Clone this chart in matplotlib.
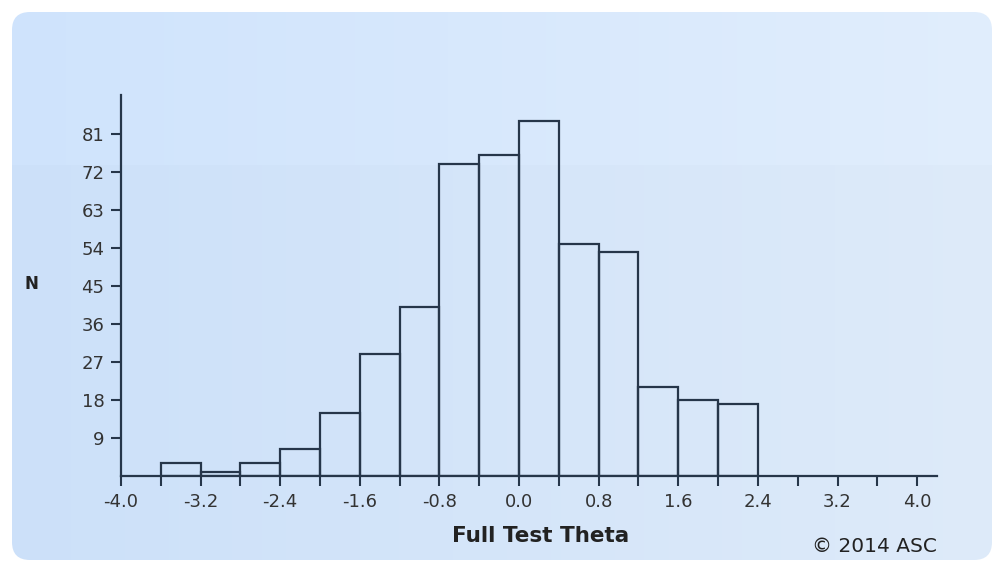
import numpy as np
import matplotlib
matplotlib.use("Agg")
import matplotlib.pyplot as plt
from matplotlib.patches import FancyBboxPatch

plt.rcParams['font.family'] = ['DejaVu Sans']

# --- DATA ---
bin_edges = [-3.6, -3.2, -2.8, -2.4, -2.0, -1.6, -1.2, -0.8, -0.4, 0.0, 0.4, 0.8, 1.2, 1.6, 2.0, 2.4]
counts = [3, 1, 3, 6.5, 15, 29, 40, 74, 76, 84, 55, 53, 21, 18, 17]
y_ticks = [9, 18, 27, 36, 45, 54, 63, 72, 81]
x_labels = ["-4.0", "-3.2", "-2.4", "-1.6", "-0.8", "0.0", "0.8", "1.6", "2.4", "3.2", "4.0"]

fig = plt.figure(figsize=(9.94, 5.63), dpi=100)
fig.patch.set_facecolor("white")

# background panel with soft gradient
bg = fig.add_axes([0, 0, 1, 1])
bg.set_xlim(0, 994)
bg.set_ylim(563, 0)
bg.axis("off")
gx = np.linspace(0, 1, 200)
gy = np.linspace(0, 1, 100)
GX, GY = np.meshgrid(gx, gy)
c_left = np.array([0.80, 0.88, 0.98])
c_right = np.array([0.87, 0.92, 0.98])
grad = c_left[None, None, :] * (1 - GX[..., None]) + c_right[None, None, :] * GX[..., None]
grad = grad + 0.012 * (GY[..., None] < 0.28)
grad = np.clip(grad, 0, 1)
im = bg.imshow(grad, extent=[12, 992, 560, 12], aspect="auto", zorder=0)
panel = FancyBboxPatch((12, 12), 980, 548, boxstyle="round,pad=0,rounding_size=18",
                       transform=bg.transData, facecolor="none", edgecolor="none")
bg.add_patch(panel)
im.set_clip_path(panel)

ax = fig.add_axes([0.1217, 0.1545, 0.821, 0.677])
ax.patch.set_alpha(0)
edge = "#26364a"
ax.hist(bin_edges[:-1], bins=bin_edges, weights=counts, histtype="bar",
        facecolor="none", edgecolor=edge, linewidth=1.6)

ax.set_xlim(-4.0, 4.2)
ax.set_ylim(0, 90.3)
ax.set_xticks(np.arange(-4.0, 4.01, 0.4))
ax.set_xticklabels([x_labels[i // 2] if i % 2 == 0 else "" for i in range(21)])
ax.set_yticks(y_ticks)
ax.set_yticklabels([str(v) for v in y_ticks])

for s in ["top", "right"]:
    ax.spines[s].set_visible(False)
for s in ["left", "bottom"]:
    ax.spines[s].set_color(edge)
    ax.spines[s].set_linewidth(1.6)
ax.tick_params(axis="both", direction="out", length=7, width=1.5, color=edge,
               labelsize=13, labelcolor="#333333", pad=5)

fig.text(0.032, 0.495, "N", fontsize=12, fontweight="bold", color="#222222",
         ha="center", va="center")
fig.text(0.544, 0.048, "Full Test Theta", fontsize=15.5, fontweight="bold",
         color="#222222", ha="center", va="center")
fig.text(0.943, 0.030, "\u00a9 2014 ASC", fontsize=14.5, color="#222222",
         ha="right", va="center")

plt.savefig("out.png", dpi=100)
